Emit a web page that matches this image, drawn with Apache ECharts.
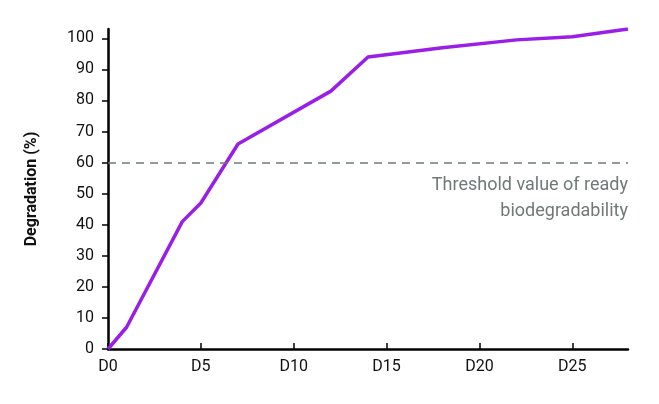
<!DOCTYPE html>
<html lang="en">
  <head>
    <meta charset="UTF-8" />
    <title>Degradation</title>
    <style>
      * { padding: 0; margin: 0; }
      html, body { width: 100%; height: 100%; background: #fff; }
      #main { width: 659px; height: 404px; }
    </style>
  </head>
  <body>
    <div id="main"></div>
    <script src="https://cdn.jsdelivr.net/npm/echarts@6/dist/echarts.min.js"></script>
    <script>
      // days and degradation values (%)
      var days = [0, 1, 4, 5, 7, 12, 14, 18, 22, 25, 28];
      var degradation = [0, 7, 41, 47, 66, 83, 94, 97, 99.5, 100.5, 103];
      var threshold = 60;
      var thresholdLabel = 'Threshold value of ready\nbiodegradability';

      var myChart = echarts.init(document.getElementById('main'));
      var font = 'Roboto, "DejaVu Sans", sans-serif';
      var option = {
        animation: false,
        grid: { left: 108, right: 31, top: 29, bottom: 55 },
        xAxis: {
          type: 'value',
          min: 0,
          max: 28,
          interval: 5,
          splitLine: { show: false },
          axisLine: { lineStyle: { color: '#000', width: 2.5 } },
          axisTick: { inside: true, length: 6, lineStyle: { color: '#000', width: 1.5 } },
          axisLabel: {
            color: '#111', fontSize: 16, fontFamily: font, margin: 10, showMaxLabel: false,
            formatter: function (v) { return v % 5 === 0 ? 'D' + v : ''; }
          }
        },
        yAxis: {
          type: 'value',
          min: 0,
          max: 103,
          interval: 10,
          name: 'Degradation (%)',
          nameLocation: 'middle',
          nameGap: 68,
          nameTextStyle: { color: '#111', fontSize: 16, fontWeight: 'bold', fontFamily: font },
          splitLine: { show: false },
          axisLine: { show: true, lineStyle: { color: '#000', width: 2.5 } },
          axisTick: { show: true, length: 6, lineStyle: { color: '#000', width: 1.5 } },
          axisLabel: { color: '#111', fontSize: 16, fontFamily: font, margin: 14, showMaxLabel: false }
        },
        series: [
          {
            type: 'line',
            data: days.map(function (d, i) { return [d, degradation[i]]; }),
            symbol: 'none',
            lineStyle: { color: '#9a1ee6', width: 3.5 },
            markLine: {
              silent: true,
              symbol: 'none',
              lineStyle: { color: '#6f7a78', type: [8, 6], width: 1.5 },
              label: {
                position: 'insideEndBottom',
                formatter: thresholdLabel,
                color: '#6f7a78',
                fontSize: 18,
                fontFamily: font,
                align: 'right',
                lineHeight: 26,
                distance: [0, 10]
              },
              data: [{ yAxis: threshold }]
            }
          }
        ]
      };
      myChart.setOption(option);
    </script>
  </body>
</html>
